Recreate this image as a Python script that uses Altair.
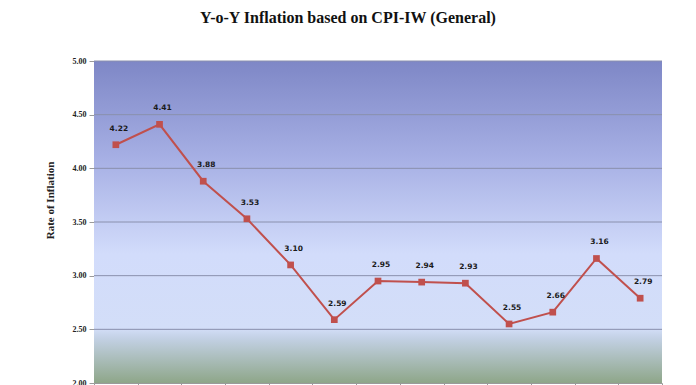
import altair as alt
import pandas as pd

months = ["Apr-17", "May-17", "Jun-17", "Jul-17", "Aug-17", "Sep-17", "Oct-17",
          "Nov-17", "Dec-17", "Jan-18", "Feb-18", "Mar-18", "Apr-18"]
inflation = [4.22, 4.41, 3.88, 3.53, 3.10, 2.59, 2.95, 2.94, 2.93, 2.55, 2.66, 3.16, 2.79]
y_ticks = [2.0, 2.5, 3.0, 3.5, 4.0, 4.5, 5.0]

df = pd.DataFrame({"month": months, "value": inflation})
grid_df = pd.DataFrame({"value": y_ticks[1:]})
bg_df = pd.DataFrame({"k": [0]})

W, H = 568, 322
red = "#c0504d"

x_enc = alt.X("month:N", sort=months, bandPosition=0.5,
              scale=alt.Scale(type="band", paddingInner=0, paddingOuter=0),
              axis=alt.Axis(title=None, bandPosition=0, tickBand="extent", labels=False,
                            domainColor="#9a9a9a", tickColor="#9a9a9a", tickSize=5,
                            grid=False))
y_scale = alt.Scale(domain=[2.0, 5.0], nice=False, zero=False)
y_enc = alt.Y("value:Q", scale=y_scale,
              axis=alt.Axis(values=y_ticks, format=".2f", title="Rate of Inflation",
                            titleFont="Liberation Serif", titleFontSize=11, titleFontWeight="bold",
                            titleColor="#222222", titleX=-44, titleY=139, titleBaseline="middle",
                            labelFont="Liberation Serif", labelFontSize=8, labelFontWeight="bold",
                            labelColor="#222222", labelPadding=3,
                            tickColor="#9a9a9a", tickSize=5, domainColor="#9a9a9a",
                            grid=False))

grad = alt.LinearGradient(
    gradient="linear", x1=0, x2=0, y1=0, y2=1,
    stops=[
        alt.GradientStop(offset=0.0, color="#7e87c6"),
        alt.GradientStop(offset=0.3, color="#a6afe4"),
        alt.GradientStop(offset=0.6, color="#d2dcfb"),
        alt.GradientStop(offset=0.83, color="#d3def8"),
        alt.GradientStop(offset=0.86, color="#c3d1e5"),
        alt.GradientStop(offset=1.0, color="#8ea689"),
    ])

bg = alt.Chart(bg_df).mark_rect(fill=grad).encode(
    x=alt.value(0), x2=alt.value(W), y=alt.value(0), y2=alt.value(H))

grid = alt.Chart(grid_df).mark_rule(color="#8a90ad", strokeWidth=1).encode(
    y=alt.Y("value:Q", scale=y_scale), x=alt.value(0), x2=alt.value(W))

base = alt.Chart(df)
line = base.mark_line(color=red, strokeWidth=2).encode(x=x_enc, y=y_enc)
pts = base.mark_square(color=red, size=45, opacity=1).encode(x=x_enc, y=y_enc)
labels = base.mark_text(font="DejaVu Sans", fontSize=7.5, fontWeight="bold", color="#1a1a1a",
                        dx=3, dy=-16).encode(x=x_enc, y=y_enc, text=alt.Text("value:Q", format=".2f"))

chart = alt.layer(bg, grid, line, pts, labels).properties(
    width=W, height=H,
    autosize=alt.AutoSizeParams(type="none"),
    padding={"left": 86, "top": 53, "right": 26, "bottom": 40},
    title=alt.TitleParams("Y-o-Y Inflation based on CPI-IW (General)",
                          font="Liberation Serif", fontSize=16, fontWeight="bold",
                          color="#111111", anchor="middle", dx=-30, offset=31),
).configure_view(stroke=None)

chart.save("out.html", embed_options={"renderer": "svg", "actions": False})
